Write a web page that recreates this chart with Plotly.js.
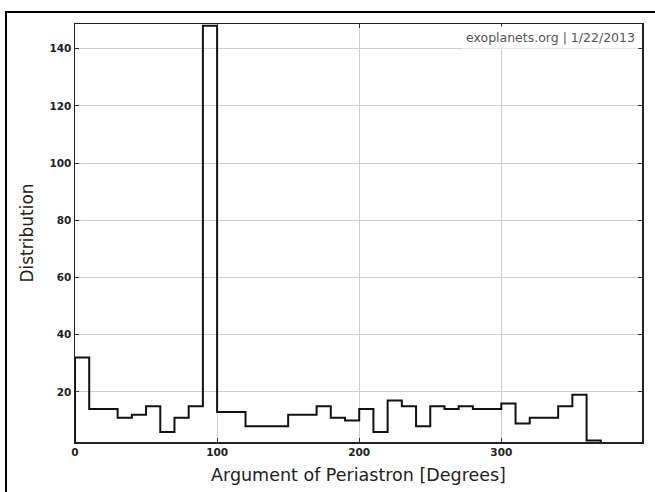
<!DOCTYPE html>
<html>
<head>
<meta charset="utf-8">
<script src="https://cdn.plot.ly/plotly-3.0.1.min.js"></script>
<style>
html,body{margin:0;padding:0;background:#fff;}
#wrap{position:relative;width:655px;height:492px;overflow:hidden;}
#chart{position:absolute;left:0;top:0;width:655px;height:492px;}
#frame{position:absolute;left:5px;top:11px;width:660px;height:500px;border-top:2px solid #000;border-left:2px solid #000;pointer-events:none;}
</style>
</head>
<body>
<div id="wrap"><div id="chart"></div><div id="frame"></div></div>
<script>
// Histogram of argument of periastron, 10-degree bins
const binEdges = [0,10,20,30,40,50,60,70,80,90,100,110,120,130,140,150,160,170,180,190,200,210,220,230,240,250,260,270,280,290,300,310,320,330,340,350,360,370];
const counts = [32,14,14,11,12,15,6,11,15,148,13,13,8,8,8,12,12,15,11,10,14,6,17,15,8,15,14,15,14,14,16,9,11,11,15,19,3];
const baseline = 2.5;
const xTicks = [0,100,200,300];
const yTicks = [20,40,60,80,100,120,140];
const xLabel = "Argument of Periastron [Degrees]";
const yLabel = "Distribution";
const stamp = "exoplanets.org | 1/22/2013";

// Build step outline from the bins
const xs = [binEdges[0]];
const ys = [baseline];
for (let i = 0; i < counts.length; i++) {
  xs.push(binEdges[i]);
  ys.push(counts[i]);
}
xs.push(binEdges[binEdges.length - 1]);
ys.push(counts[counts.length - 1]);
xs.push(binEdges[binEdges.length - 1]);
ys.push(baseline);

const trace = {
  type: 'scatter',
  mode: 'lines',
  x: xs,
  y: ys,
  line: {shape: 'hv', color: '#111', width: 2},
  hoverinfo: 'skip'
};

const axisCommon = {
  showline: true,
  linecolor: '#222',
  linewidth: 1.5,
  mirror: 'ticks',
  ticks: 'inside',
  ticklen: 4,
  tickwidth: 1,
  tickcolor: '#333',
  showgrid: true,
  gridcolor: '#cfcfcf',
  gridwidth: 1,
  zeroline: false,
  tickfont: {family: 'DejaVu Sans', size: 10.5, color: '#222', weight: 'bold'}
};

const layout = {
  width: 655,
  height: 492,
  margin: {l: 75, r: 13, t: 24, b: 50},
  paper_bgcolor: '#fff',
  plot_bgcolor: '#fff',
  showlegend: false,
  xaxis: Object.assign({}, axisCommon, {
    range: [0, 399],
    tickvals: xTicks,
    ticktext: xTicks.map(String),
    title: {text: xLabel, font: {family: 'DejaVu Sans', size: 17.5, color: '#222'}, standoff: 11}
  }),
  yaxis: Object.assign({}, axisCommon, {
    range: [baseline, 148.6],
    tickvals: yTicks,
    ticktext: yTicks.map(String),
    title: {text: yLabel, font: {family: 'DejaVu Sans', size: 17, color: '#222'}, standoff: 11}
  }),
  annotations: [{
    xref: 'paper', yref: 'paper',
    x: 0.995, y: 0.995,
    xanchor: 'right', yanchor: 'top',
    text: stamp,
    showarrow: false,
    bgcolor: '#fff',
    borderpad: 3,
    font: {family: 'DejaVu Sans', size: 12.5, color: '#555'}
  }]
};

Plotly.newPlot('chart', [trace], layout, {displayModeBar: false, staticPlot: true});
</script>
</body>
</html>
